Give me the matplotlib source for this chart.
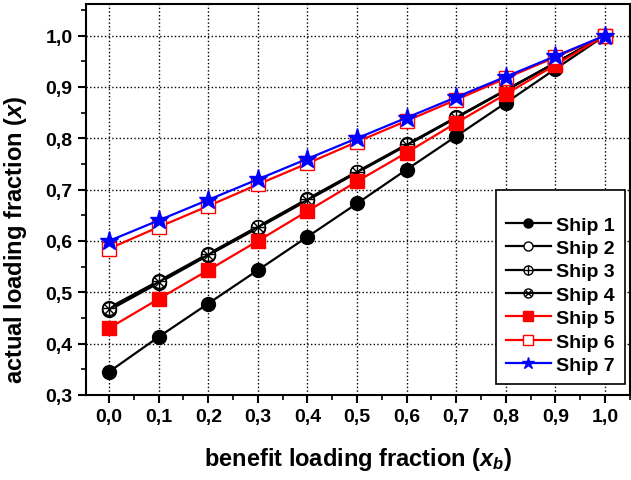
import numpy as np
import matplotlib
matplotlib.use("Agg")
import matplotlib.pyplot as plt
from matplotlib.ticker import FuncFormatter, MultipleLocator
from matplotlib.legend_handler import HandlerTuple

plt.rcParams['font.family'] = ['Liberation Sans', 'DejaVu Sans']
plt.rcParams['font.weight'] = 'bold'
plt.rcParams['mathtext.fontset'] = 'custom'
plt.rcParams['mathtext.rm'] = 'Liberation Sans:bold'
plt.rcParams['mathtext.it'] = 'Liberation Sans:italic:bold'
plt.rcParams['mathtext.bf'] = 'Liberation Sans:bold'

# data
xb = [0.0, 0.1, 0.2, 0.3, 0.4, 0.5, 0.6, 0.7, 0.8, 0.9, 1.0]
ship1 = [0.345, 0.413, 0.478, 0.543, 0.608, 0.673, 0.739, 0.804, 0.869, 0.935, 1.0]
ship2 = [0.465, 0.518, 0.572, 0.625, 0.679, 0.733, 0.786, 0.840, 0.893, 0.947, 1.0]
ship3 = [0.470, 0.522, 0.575, 0.628, 0.682, 0.735, 0.788, 0.841, 0.894, 0.947, 1.0]
ship4 = [0.467, 0.520, 0.573, 0.627, 0.680, 0.734, 0.787, 0.840, 0.894, 0.947, 1.0]
ship5 = [0.430, 0.487, 0.543, 0.600, 0.658, 0.716, 0.772, 0.830, 0.886, 0.943, 1.0]
ship6 = [0.585, 0.627, 0.668, 0.710, 0.751, 0.793, 0.834, 0.875, 0.917, 0.958, 1.0]
ship7 = [0.600, 0.640, 0.680, 0.720, 0.760, 0.800, 0.840, 0.880, 0.920, 0.960, 1.0]
names = ['Ship 1', 'Ship 2', 'Ship 3', 'Ship 4', 'Ship 5', 'Ship 6', 'Ship 7']

fig = plt.figure(figsize=(6.31, 4.81), dpi=100)
ax = fig.add_axes([0.136, 0.177, 0.862, 0.813])

ms = 10
lw = 1.6
h1, = ax.plot(xb, ship1, '-o', color='black', mfc='black', mec='black', ms=ms, lw=lw)
h2, = ax.plot(xb, ship2, '-o', color='black', mfc='white', mec='black', ms=ms, lw=lw)
h3a, = ax.plot(xb, ship3, '-o', color='black', mfc='white', mec='black', ms=ms, lw=lw)
h3b, = ax.plot(xb, ship3, '+', color='black', ms=ms, mew=1.0, lw=0)
h4a, = ax.plot(xb, ship4, '-o', color='black', mfc='none', mec='black', ms=ms, lw=lw)
h4b, = ax.plot(xb, ship4, 'x', color='black', ms=ms * 0.7, mew=1.0, lw=0)
h5, = ax.plot(xb, ship5, '-s', color='red', mfc='red', mec='red', ms=ms, lw=lw)
h6, = ax.plot(xb, ship6, '-s', color='red', mfc='white', mec='red', ms=ms, lw=lw)
h7, = ax.plot(xb, ship7, '-*', color='blue', mfc='blue', mec='blue', ms=ms + 4, lw=lw)

ax.set_xlim(-0.047, 1.05)
ax.set_ylim(0.3, 1.062)
ax.xaxis.set_major_locator(MultipleLocator(0.1))
ax.xaxis.set_minor_locator(MultipleLocator(0.05))
ax.yaxis.set_major_locator(MultipleLocator(0.1))
ax.yaxis.set_minor_locator(MultipleLocator(0.05))
fmt = FuncFormatter(lambda v, p: f"{v:.1f}".replace('.', ','))
ax.xaxis.set_major_formatter(fmt)
ax.yaxis.set_major_formatter(fmt)
ax.tick_params(which='major', direction='out', length=6, width=1.5, labelsize=14)
ax.tick_params(which='minor', direction='out', length=3.5, width=1.2)
for s in ax.spines.values():
    s.set_linewidth(1.5)
ax.grid(True, which='major', color='black', linestyle=':', linewidth=1)
ax.set_axisbelow(True)

ax.set_xlabel(r"benefit loading fraction ($x_b$)", fontsize=17, fontweight='bold', labelpad=14)
ax.set_ylabel(r"actual loading fraction ($x$)", fontsize=17, fontweight='bold')
ax.yaxis.set_label_coords(-0.105, 0.40)

leg = ax.legend([h1, h2, (h3a, h3b), (h4a, h4b), h5, h6, h7], names,
                handler_map={tuple: HandlerTuple(ndivide=1, pad=0)},
                loc='lower right', bbox_to_anchor=(0.991, 0.028), borderaxespad=0,
                fontsize=14, markerscale=0.65, handlelength=2.3, handletextpad=0.3,
                fancybox=False, edgecolor='black', framealpha=1,
                borderpad=0.5, labelspacing=0.3, title=' ', title_fontsize=8)
leg.get_frame().set_linewidth(1.2)

fig.savefig("out.png", dpi=100)
